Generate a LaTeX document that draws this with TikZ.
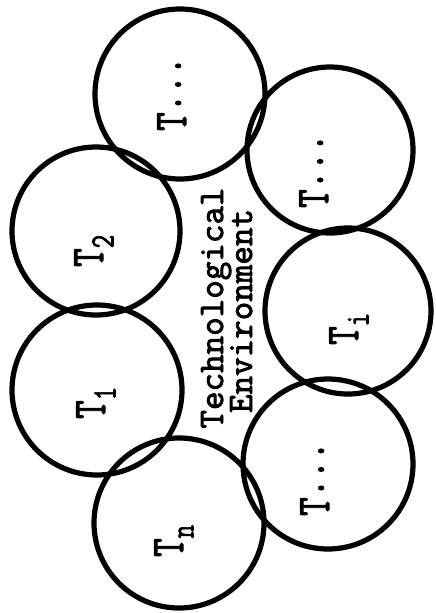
\documentclass[tikz,border=0pt]{standalone}
\usepackage{fontspec}
\newfontfamily\tyfont{Latin Modern Mono}[FakeBold=2.5]
\newcommand\tsub[1]{\scalebox{1}[1.3]{T\raisebox{-8pt}{\fontsize{26}{26}\selectfont #1}}}
\newcommand\tdots{\scalebox{1}[1.3]{T\raisebox{4pt}{...}}}
\begin{document}
\begin{tikzpicture}[x=1pt,y=-1pt,
  ring/.style={circle,draw,line width=5.2pt,inner sep=0pt,minimum size=#1},
  lbl/.style={rotate=90,anchor=base west,inner sep=0pt,font=\tyfont\fontsize{36}{36}\selectfont},
  envtext/.style={rotate=90,anchor=base,inner sep=0pt,font=\tyfont\fontsize{36}{36}\selectfont}]
\useasboundingbox (0,0) rectangle (436,613);
% circles
\node[ring=170pt] (A) at (180,94) {};
\node[ring=166pt] (B) at (330,150) {};
\node[ring=166pt] (C) at (348,311) {};
\node[ring=170pt] (D) at (328,464) {};
\node[ring=170pt] (E) at (179,523) {};
\node[ring=170pt] (F) at (97,390) {};
\node[ring=168pt] (G) at (96,231) {};
% labels
\node[lbl] (LA) at (186,131) {\tdots};
\node[lbl] (LG) at (103,267) {\tsub{2}};
\node[lbl] (LF) at (105,419) {\tsub{1}};
\node[lbl] (LE) at (183,557) {\tsub{n}};
\node[lbl] (LC) at (358,345) {\tsub{i}};
\node[lbl] (LB) at (328,208) {\tdots};
\node[lbl] (LD) at (329,516) {\tdots};
% centre text
\node[envtext] (tech) at (223,308) {Technological};
\node[envtext] (envr) at (252,311) {Environment};
\end{tikzpicture}
\end{document}
